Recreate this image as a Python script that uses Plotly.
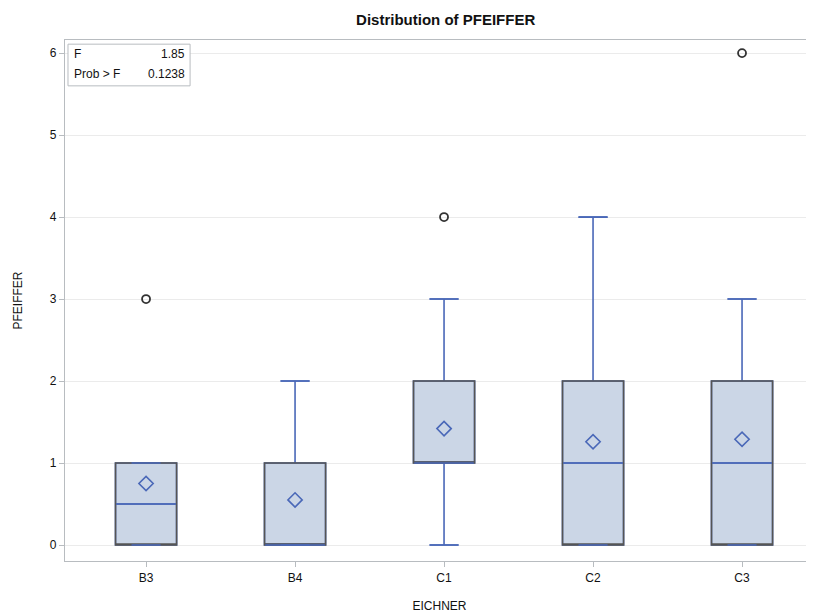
import plotly.graph_objects as go

categories = ["B3", "B4", "C1", "C2", "C3"]
q1 = [0, 0, 1, 0, 0]
median = [0.5, 0, 1, 1, 1]
q3 = [1, 1, 2, 2, 2]
lower = [0, 0, 0, 0, 0]
upper = [1, 2, 3, 4, 3]
means = [0.75, 0.55, 1.42, 1.26, 1.29]
outlier_x = ["B3", "C1", "C3"]
outlier_y = [3, 4, 6]
f_value = "1.85"
p_value = "0.1238"

BLUE = "#4a68b8"
GRAY = "#555555"
FILL = "#cbd6e6"
BOXW = 0.41
CAPW = 0.195

fig = go.Figure()
fig.add_trace(go.Box(x=categories, q1=q1, median=median, q3=q3,
                     lowerfence=lower, upperfence=upper,
                     fillcolor=FILL, line=dict(color=BLUE, width=1.6),
                     width=BOXW, whiskerwidth=CAPW / BOXW, boxpoints=False,
                     hoverinfo="skip", showlegend=False))
fig.add_trace(go.Box(x=categories, q1=q1, median=q1, q3=q3,
                     lowerfence=q1, upperfence=q3,
                     fillcolor="rgba(0,0,0,0)", line=dict(color=GRAY, width=1.6),
                     width=BOXW, whiskerwidth=0, boxpoints=False,
                     hoverinfo="skip", showlegend=False))
fig.add_trace(go.Box(x=categories, q1=median, median=median, q3=median,
                     lowerfence=median, upperfence=median,
                     fillcolor="rgba(0,0,0,0)", line=dict(color=BLUE, width=1.6),
                     width=BOXW - 0.01, whiskerwidth=0, boxpoints=False,
                     hoverinfo="skip", showlegend=False))
for fence in (lower, upper):
    fig.add_trace(go.Box(x=categories, q1=fence, median=fence, q3=fence,
                         lowerfence=fence, upperfence=fence,
                         fillcolor="rgba(0,0,0,0)", line=dict(color=BLUE, width=1.6),
                         width=CAPW, whiskerwidth=0, boxpoints=False,
                         hoverinfo="skip", showlegend=False))
fig.add_trace(go.Scatter(x=categories, y=means, mode="markers",
                         marker=dict(symbol="diamond-open", size=11,
                                     color=BLUE, line=dict(width=1.6, color=BLUE)),
                         hoverinfo="skip", showlegend=False))
fig.add_trace(go.Scatter(x=outlier_x, y=outlier_y, mode="markers",
                         marker=dict(symbol="circle-open", size=8,
                                     color="#333333", line=dict(width=1.8, color="#333333")),
                         hoverinfo="skip", showlegend=False))

fig.update_layout(
    width=806, height=606,
    margin=dict(l=57, r=0, t=32, b=53),
    paper_bgcolor="white", plot_bgcolor="white",
    boxmode="overlay",
    font=dict(family="Liberation Sans, Arial, sans-serif", color="#111111", size=12),
    title=dict(text="<b>Distribution of PFEIFFER</b>", x=0.543, xanchor="center",
               y=0.980, yanchor="middle", font=dict(size=15, color="#111111")),
    xaxis=dict(type="category", range=[-0.544, 4.483],
               showline=True, linecolor="#b8bcc0", linewidth=1.2, mirror=True,
               ticks="outside", ticklen=5, tickcolor="#b8bcc0",
               showgrid=False, zeroline=False,
               tickfont=dict(size=12, color="#111111"),
               title=dict(text="EICHNER", font=dict(size=12, color="#111111"), standoff=18)),
    yaxis=dict(range=[-0.195, 6.16], tickvals=[0, 1, 2, 3, 4, 5, 6],
               showline=True, linecolor="#b8bcc0", linewidth=1.2, mirror=False,
               ticks="outside", ticklen=5, tickcolor="#b8bcc0",
               showgrid=True, gridcolor="#ebebeb", gridwidth=1.2, zeroline=False,
               tickfont=dict(size=12, color="#111111"),
               title=dict(text="PFEIFFER", font=dict(size=12, color="#111111"), standoff=24)),
)

fig.add_shape(type="rect", xref="paper", yref="paper",
              x0=0.004, x1=0.167, y0=0.912, y1=0.992,
              line=dict(color="#b8bcc0", width=1), fillcolor="white", layer="above")
fig.add_annotation(xref="paper", yref="paper", x=0.009, y=0.973,
                   xanchor="left", yanchor="middle", showarrow=False,
                   text="F", font=dict(size=12, color="#111111"))
fig.add_annotation(xref="paper", yref="paper", x=0.163, y=0.973,
                   xanchor="right", yanchor="middle", showarrow=False,
                   text=f_value, font=dict(size=12, color="#111111"))
fig.add_annotation(xref="paper", yref="paper", x=0.009, y=0.935,
                   xanchor="left", yanchor="middle", showarrow=False,
                   text="Prob > F", font=dict(size=12, color="#111111"))
fig.add_annotation(xref="paper", yref="paper", x=0.163, y=0.935,
                   xanchor="right", yanchor="middle", showarrow=False,
                   text=p_value, font=dict(size=12, color="#111111"))

fig.write_html("out.html")
